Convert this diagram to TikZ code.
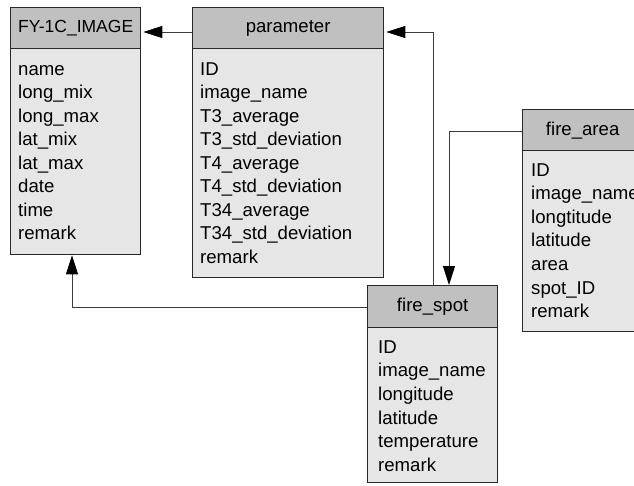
\documentclass[tikz,border=0pt]{standalone}
\usepackage{fontspec}
\setmainfont{Liberation Sans}
\usetikzlibrary{arrows.meta}
\definecolor{hdrgray}{RGB}{192,192,192}
\definecolor{bodygray}{RGB}{230,230,230}
\definecolor{bordergray}{RGB}{40,40,40}
\definecolor{linegray}{RGB}{60,60,60}
\tikzset{
  hdr/.style={draw=bordergray, line width=1.3pt, fill=hdrgray, anchor=north west, inner sep=0pt,
              font=\fontsize{18.6}{22}\selectfont},
  bodybox/.style={draw=bordergray, line width=1.3pt, fill=bodygray, anchor=north west, inner sep=0pt},
  row/.style={anchor=base west, inner sep=0pt, font=\fontsize{18.6}{22}\selectfont},
  conn/.style={draw=linegray, line width=0.9pt, -{Triangle[length=19pt,width=12pt,color=black]}}
}
\begin{document}
\begin{tikzpicture}[x=1pt,y=-1pt]
\useasboundingbox (0,0) rectangle (634,485);
% FY-1C_IMAGE
\node[bodybox, minimum width=130, minimum height=206] (fyb) at (10,48) {};
\node[hdr, minimum width=130, minimum height=41, font=\fontsize{17.5}{22}\selectfont] (fyh) at (10,7) {FY-1C\_IMAGE};
\foreach \t [count=\i] in {name,long\_mix,long\_max,lat\_mix,lat\_max,date,time,remark}
  \node[row] (fy-\i) at (18,{75+23.5*(\i-1)}) {\t};
% parameter
\node[bodybox, minimum width=191, minimum height=229] (parb) at (192,48) {};
\node[hdr, minimum width=191, minimum height=41] (parh) at (192,7) {parameter};
\foreach \t [count=\i] in {ID,image\_name,T3\_average,T3\_std\_deviation,T4\_average,T4\_std\_deviation,T34\_average,T34\_std\_deviation,remark}
  \node[row] (par-\i) at (200,{75+23.5*(\i-1)}) {\t};
% fire_area
\node[bodybox, minimum width=120, minimum height=181] (fab) at (522,150) {};
\node[hdr, minimum width=120, minimum height=41] (fah) at (522,109) {fire\_area};
\foreach \t [count=\i] in {ID,image\_name,longtitude,latitude,area,spot\_ID,remark}
  \node[row] (fa-\i) at (531,{176+23.6*(\i-1)}) {\t};
% fire_spot
\node[bodybox, minimum width=130, minimum height=155] (fsb) at (367,327) {};
\node[hdr, minimum width=130, minimum height=42] (fsh) at (367,285) {fire\_spot};
\foreach \t [count=\i] in {ID,image\_name,longitude,latitude,temperature,remark}
  \node[row] (fs-\i) at (378,{353+23.7*(\i-1)}) {\t};
% connectors
\coordinate (k1) at (433,32);
\coordinate (k2) at (449,131);
\coordinate (k3) at (72,307);
\draw[conn, shorten >=2pt] (parh.west |- k1) -- (fyh.east |- k1);
\draw[conn, shorten >=2pt] (fsh.north -| k1) -- (k1) -- (parh.east |- k1);
\draw[conn] (fah.west |- k2) -- (k2) -- (fsh.north -| k2);
\draw[conn] (fsh.west |- k3) -- (k3) -- (fyb.south -| k3);
\end{tikzpicture}
\end{document}
